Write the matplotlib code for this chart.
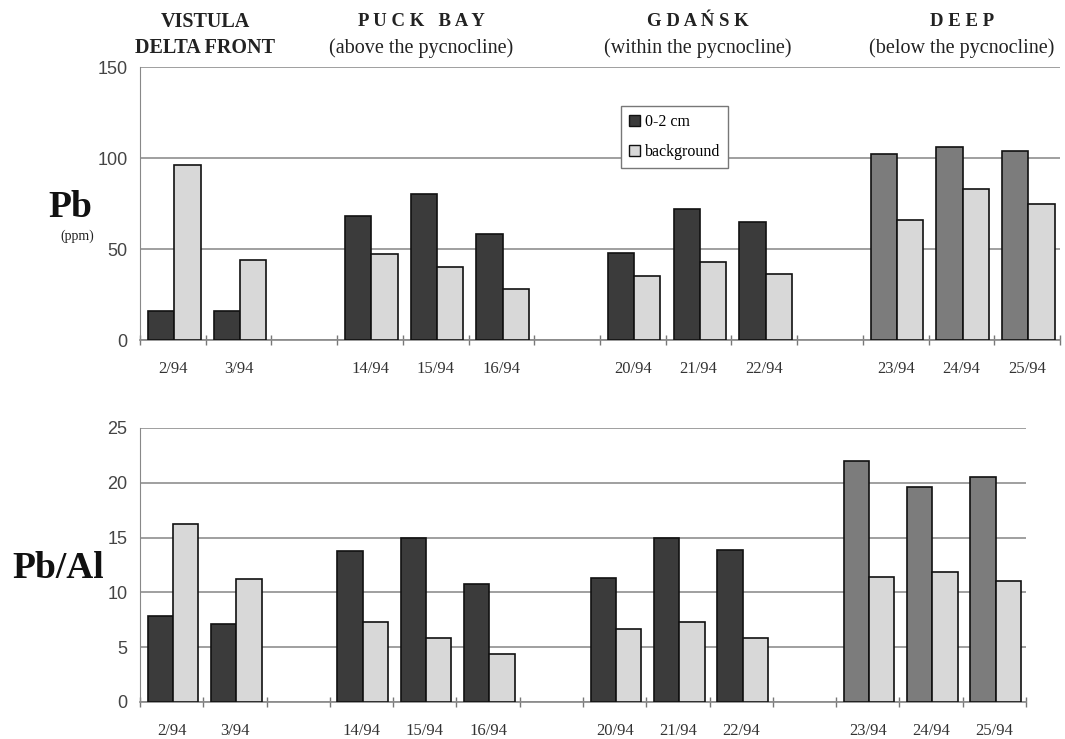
import numpy as np
import matplotlib
matplotlib.use("Agg")
import matplotlib.pyplot as plt
from matplotlib.patches import Patch

# sample stations, grouped by area (one empty slot between groups)
groups = [["2/94", "3/94"],
          ["14/94", "15/94", "16/94"],
          ["20/94", "21/94", "22/94"],
          ["23/94", "24/94", "25/94"]]
group_titles = [("VISTULA", "DELTA FRONT"),
                ("P U C K   B A Y", "(above the pycnocline)"),
                ("G D A Ń S K", "(within the pycnocline)"),
                ("D E E P", "(below the pycnocline)")]

# Pb (ppm)
pb_surface = [16, 16, 68, 80, 58, 48, 72, 65, 102, 106, 104]
pb_background = [96, 44, 47, 40, 28, 35, 43, 36, 66, 83, 75]

# Pb/Al
pbal_surface = [7.8, 7.1, 13.8, 15.0, 10.8, 11.3, 15.0, 13.9, 22.0, 19.6, 20.5]
pbal_background = [16.2, 11.2, 7.3, 5.8, 4.4, 6.7, 7.3, 5.8, 11.4, 11.9, 11.0]

# slot positions
slots = []
labels = []
gi_list = []
pos = 0
for gi, g in enumerate(groups):
    for s in g:
        slots.append(pos)
        labels.append(s)
        gi_list.append(gi)
        pos += 1
    pos += 1
n_slots = pos - 1
slots = np.array(slots)

dark = "#3b3b3b"
mid = "#7c7c7c"
light = "#d8d8d8"
surf_colors = [mid if g == 3 else dark for g in gi_list]

serif = "Liberation Serif"
sans = "Liberation Sans"

fig = plt.figure(figsize=(10.65, 7.39), dpi=100)
ax1 = fig.add_axes([0.1315, 0.5399, 0.8638, 0.3694])
ax2 = fig.add_axes([0.1315, 0.0501, 0.8319, 0.3708])

bw = 0.4
for ax, surf, back, ymax, step in [(ax1, pb_surface, pb_background, 150, 50),
                                   (ax2, pbal_surface, pbal_background, 25, 5)]:
    ax.bar(slots + 0.32, surf, width=bw, color=surf_colors,
           edgecolor="#111111", linewidth=1.2, zorder=3)
    ax.bar(slots + 0.72, back, width=bw, color=light,
           edgecolor="#111111", linewidth=1.2, zorder=3)
    ax.set_xlim(0, n_slots)
    ax.set_ylim(0, ymax)
    ax.set_yticks(np.arange(0, ymax + 1, step))
    ax.grid(axis="y", color="#8f8f8f", linewidth=1.2, zorder=0)
    ax.set_xticks(np.arange(0, n_slots + 1))
    ax.set_xticklabels([])
    ax.set_xticks(slots + 0.5, labels, minor=True)
    ax.tick_params(axis="x", which="major", direction="inout", length=7,
                   color="#777777", width=1)
    ax.tick_params(axis="x", which="minor", length=0, pad=15,
                   labelsize=12, labelcolor="#333333")
    ax.tick_params(axis="y", length=0, pad=9, labelsize=13,
                   labelcolor="#444444")
    for t in ax.get_xticklabels(minor=True):
        t.set_fontfamily(serif)
    for t in ax.get_yticklabels():
        t.set_fontfamily(sans)
    for side in ["top", "right"]:
        ax.spines[side].set_visible(False)
    ax.spines["left"].set_color("#888888")
    ax.spines["bottom"].set_color("#888888")
    ax.spines["bottom"].set_linewidth(1.2)

# group titles
W, H = 1065, 739
title_x = [205, 421, 698, 962]
for (l1, l2), x in zip(group_titles, title_x):
    fig.text(x / W, 1 - 22 / H, l1, ha="center", va="center",
             fontfamily=serif, fontweight="bold",
             fontsize=14.5 if x == 205 else 13.5, color="#222222")
    fig.text(x / W, 1 - 48 / H, l2, ha="center", va="center",
             fontfamily=serif, fontweight="bold" if x == 205 else "normal",
             fontsize=14.5, color="#222222")

# axis titles
fig.text(70 / W, 1 - 217 / H, "Pb", ha="center", va="baseline",
         fontfamily=serif, fontweight="bold", fontsize=27, color="#111111")
fig.text(77 / W, 1 - 236 / H, "(ppm)", ha="center", va="center",
         fontfamily=serif, fontsize=10, color="#222222")
fig.text(58 / W, 1 - 578 / H, "Pb/Al", ha="center", va="baseline",
         fontfamily=serif, fontweight="bold", fontsize=27, color="#111111")

handles = [Patch(facecolor=dark, edgecolor="#111111", label="0-2 cm"),
           Patch(facecolor=light, edgecolor="#111111", label="background")]
leg = fig.legend(handles=handles, loc="upper left",
                 bbox_to_anchor=(613 / W, 1 - 98 / H),
                 prop={"family": serif, "size": 11.5}, fancybox=False,
                 edgecolor="#777777", framealpha=1, handlelength=0.7,
                 handleheight=0.7, handletextpad=0.3, labelspacing=0.9,
                 borderpad=0.5)
leg.get_frame().set_linewidth(1)

fig.savefig("out.png", dpi=100)
